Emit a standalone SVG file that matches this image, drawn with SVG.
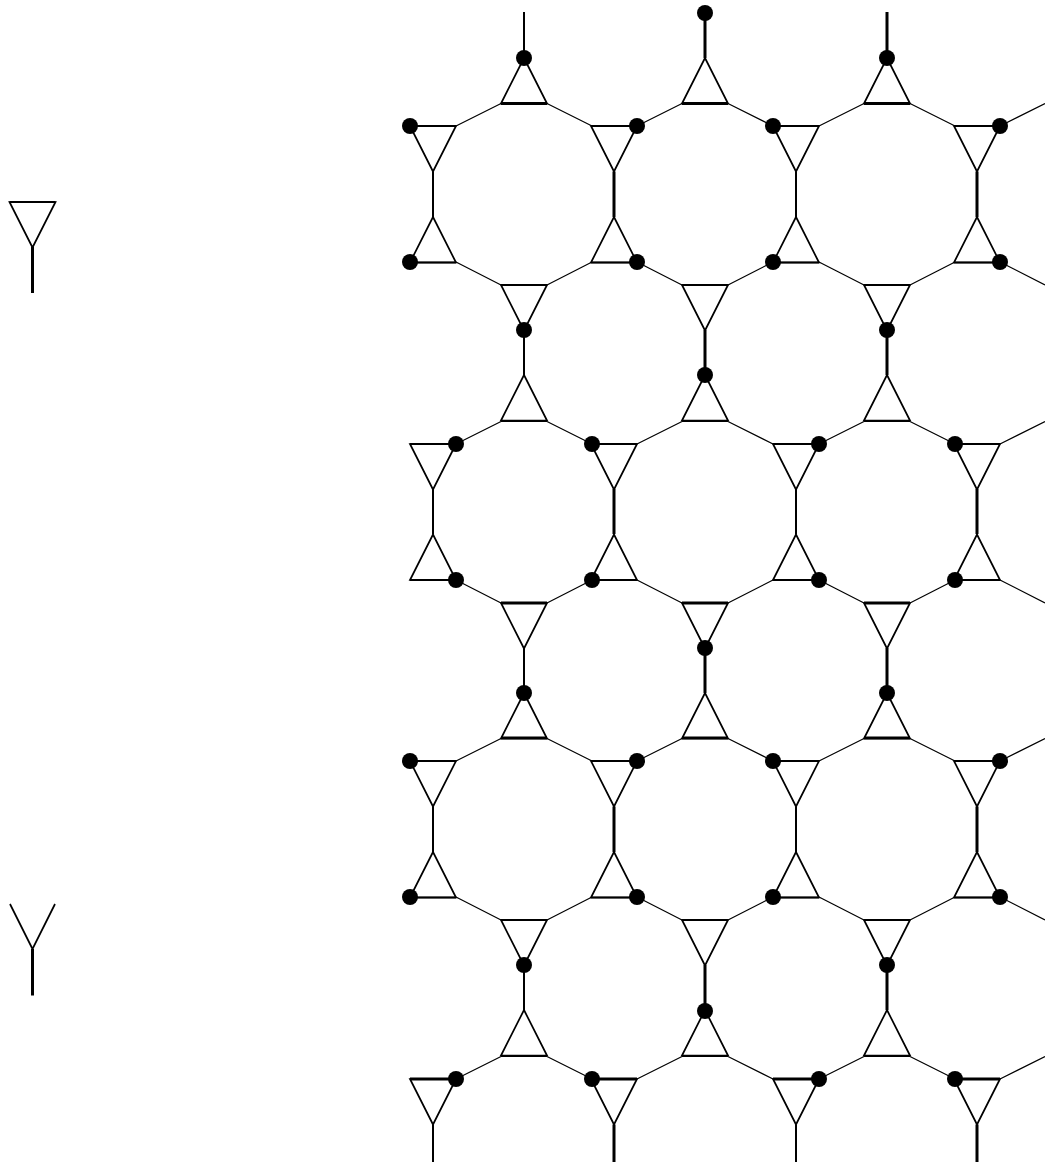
<svg xmlns="http://www.w3.org/2000/svg" width="1045" height="1163" viewBox="0 0 1045 1163">
<style>
.bg{fill:#fff}
.tri{fill:none;stroke:#000;stroke-width:1.7;stroke-linejoin:miter}
.base{stroke:#000;stroke-width:3}
.link{fill:none;stroke:#000;stroke-width:1.2}
.v{stroke:#000;stroke-width:2;fill:none}
.V{stroke:#000;stroke-width:3;fill:none}
.dot{fill:#000}
</style>
<defs>
<path id="dn" class="tri" d="M-23 0H23L0 45.5Z"/>
<path id="up" class="tri" d="M0 0L23 45.5H-23Z"/>
<path id="zu" class="link" d="M456 0L501 -22.5M547 -22.5L592 0M637 0L682 -22.5M728 -22.5L773 0M819 0L864 -22.5M910 -22.5L955 0M1000 0L1045 -22.5"/>
<path id="zd" class="link" d="M456 0L501 23M547 23L592 0M637 0L682 23M728 23L773 0M819 0L864 23M910 23L955 0M1000 0L1045 23"/>
</defs>
<rect class="bg" width="1045" height="1163"/>
<g id="connectors">
<use href="#zu" y="126"/><use href="#zd" y="262"/><use href="#zu" y="444"/><use href="#zd" y="580"/><use href="#zu" y="761"/><use href="#zd" y="897"/><use href="#zu" y="1079"/>
<path class="v" d="M433 171.500V217M433 489V534M433 806.500V852M433 1124.500V1162M796 171.500V217M796 489V534M796 806.500V852M796 1124.500V1162M524 12V58M524 330V375M524 648V693M524 965V1010"/>
<path class="V" d="M614 171.500V217M614 489V534M614 806.500V852M614 1124.500V1162M977 171.500V217M977 489V534M977 806.500V852M977 1124.500V1162M705 13V58M705 330V375M705 648V693M705 965V1010M887 12V58M887 330V375M887 648V693M887 965V1010"/>
<path class="V" d="M32.500 247V293M32.500 949V995.500"/>
</g>
<g id="legend-a"><use href="#dn" transform="translate(32.500,202)"/><path class="v" d="M9.500 202H55.500"/></g>
<g id="legend-b"><path class="tri" d="M10 904L32.500 949L55 904"/></g>
<g id="a1"><use href="#dn" transform="translate(433,126)"/><path class="v" d="M410 126H456"/><circle class="dot" cx="410" cy="126" r="8"/></g>
<g id="a2"><use href="#dn" transform="translate(614,126)"/><path class="v" d="M591 126H637"/><circle class="dot" cx="637" cy="126" r="8"/></g>
<g id="a3"><use href="#dn" transform="translate(796,126)"/><path class="v" d="M773 126H819"/><circle class="dot" cx="773" cy="126" r="8"/></g>
<g id="a4"><use href="#dn" transform="translate(977,126)"/><path class="v" d="M954 126H1000"/><circle class="dot" cx="1000" cy="126" r="8"/></g>
<g id="b1"><use href="#up" transform="translate(433,217)"/><path class="v" d="M410 262.500H456"/><circle class="dot" cx="410" cy="262" r="8"/></g>
<g id="b2"><use href="#up" transform="translate(614,217)"/><path class="v" d="M591 262.500H637"/><circle class="dot" cx="637" cy="262" r="8"/></g>
<g id="b3"><use href="#up" transform="translate(796,217)"/><path class="v" d="M773 262.500H819"/><circle class="dot" cx="773" cy="262" r="8"/></g>
<g id="b4"><use href="#up" transform="translate(977,217)"/><path class="v" d="M954 262.500H1000"/><circle class="dot" cx="1000" cy="262" r="8"/></g>
<g id="c1"><use href="#dn" transform="translate(433,444)"/><path class="v" d="M410 444H456"/><circle class="dot" cx="456" cy="444" r="8"/></g>
<g id="c2"><use href="#dn" transform="translate(614,444)"/><path class="v" d="M591 444H637"/><circle class="dot" cx="592" cy="444" r="8"/></g>
<g id="c3"><use href="#dn" transform="translate(796,444)"/><path class="v" d="M773 444H819"/><circle class="dot" cx="819" cy="444" r="8"/></g>
<g id="c4"><use href="#dn" transform="translate(977,444)"/><path class="v" d="M954 444H1000"/><circle class="dot" cx="955" cy="444" r="8"/></g>
<g id="d1"><use href="#up" transform="translate(433,534.500)"/><path class="v" d="M410 580H456"/><circle class="dot" cx="456" cy="580" r="8"/></g>
<g id="d2"><use href="#up" transform="translate(614,534.500)"/><path class="v" d="M591 580H637"/><circle class="dot" cx="592" cy="580" r="8"/></g>
<g id="d3"><use href="#up" transform="translate(796,534.500)"/><path class="v" d="M773 580H819"/><circle class="dot" cx="819" cy="580" r="8"/></g>
<g id="d4"><use href="#up" transform="translate(977,534.500)"/><path class="v" d="M954 580H1000"/><circle class="dot" cx="955" cy="580" r="8"/></g>
<g id="e1"><use href="#dn" transform="translate(433,761)"/><path class="v" d="M410 761H456"/><circle class="dot" cx="410" cy="761" r="8"/></g>
<g id="e2"><use href="#dn" transform="translate(614,761)"/><path class="v" d="M591 761H637"/><circle class="dot" cx="637" cy="761" r="8"/></g>
<g id="e3"><use href="#dn" transform="translate(796,761)"/><path class="v" d="M773 761H819"/><circle class="dot" cx="773" cy="761" r="8"/></g>
<g id="e4"><use href="#dn" transform="translate(977,761)"/><path class="v" d="M954 761H1000"/><circle class="dot" cx="1000" cy="761" r="8"/></g>
<g id="f1"><use href="#up" transform="translate(433,852)"/><path class="v" d="M410 897.500H456"/><circle class="dot" cx="410" cy="897" r="8"/></g>
<g id="f2"><use href="#up" transform="translate(614,852)"/><path class="v" d="M591 897.500H637"/><circle class="dot" cx="637" cy="897" r="8"/></g>
<g id="f3"><use href="#up" transform="translate(796,852)"/><path class="v" d="M773 897.500H819"/><circle class="dot" cx="773" cy="897" r="8"/></g>
<g id="f4"><use href="#up" transform="translate(977,852)"/><path class="v" d="M954 897.500H1000"/><circle class="dot" cx="1000" cy="897" r="8"/></g>
<g id="g1"><use href="#dn" transform="translate(433,1079)"/><path class="base" d="M410 1079H456"/><circle class="dot" cx="456" cy="1079" r="8"/></g>
<g id="g2"><use href="#dn" transform="translate(614,1079)"/><path class="base" d="M591 1079H637"/><circle class="dot" cx="592" cy="1079" r="8"/></g>
<g id="g3"><use href="#dn" transform="translate(796,1079)"/><path class="base" d="M773 1079H819"/><circle class="dot" cx="819" cy="1079" r="8"/></g>
<g id="g4"><use href="#dn" transform="translate(977,1079)"/><path class="base" d="M954 1079H1000"/><circle class="dot" cx="955" cy="1079" r="8"/></g>
<g id="h1"><use href="#up" transform="translate(524,58)"/><path class="base" d="M501 103.500H547"/><circle class="dot" cx="524" cy="58" r="8"/></g>
<g id="h2"><use href="#up" transform="translate(705,58)"/><path class="base" d="M682 103.500H728"/><circle class="dot" cx="705" cy="13" r="8"/></g>
<g id="h3"><use href="#up" transform="translate(887,58)"/><path class="base" d="M864 103.500H910"/><circle class="dot" cx="887" cy="58" r="8"/></g>
<g id="i1"><use href="#dn" transform="translate(524,285)"/><path class="v" d="M501 285H547"/><circle class="dot" cx="524" cy="330" r="8"/></g>
<g id="i2"><use href="#dn" transform="translate(705,285)"/><path class="v" d="M682 285H728"/></g>
<g id="i3"><use href="#dn" transform="translate(887,285)"/><path class="v" d="M864 285H910"/><circle class="dot" cx="887" cy="330" r="8"/></g>
<g id="j1"><use href="#up" transform="translate(524,375)"/><path class="v" d="M501 421H547"/></g>
<g id="j2"><use href="#up" transform="translate(705,375)"/><path class="v" d="M682 421H728"/><circle class="dot" cx="705" cy="375" r="8"/></g>
<g id="j3"><use href="#up" transform="translate(887,375)"/><path class="v" d="M864 421H910"/></g>
<g id="k1"><use href="#dn" transform="translate(524,603)"/><path class="base" d="M501 603H547"/></g>
<g id="k2"><use href="#dn" transform="translate(705,603)"/><path class="base" d="M682 603H728"/><circle class="dot" cx="705" cy="648" r="8"/></g>
<g id="k3"><use href="#dn" transform="translate(887,603)"/><path class="base" d="M864 603H910"/></g>
<g id="l1"><use href="#up" transform="translate(524,693)"/><path class="base" d="M501 738H547"/><circle class="dot" cx="524" cy="693" r="8"/></g>
<g id="l2"><use href="#up" transform="translate(705,693)"/><path class="base" d="M682 738H728"/></g>
<g id="l3"><use href="#up" transform="translate(887,693)"/><path class="base" d="M864 738H910"/><circle class="dot" cx="887" cy="693" r="8"/></g>
<g id="m1"><use href="#dn" transform="translate(524,920)"/><path class="v" d="M501 920H547"/><circle class="dot" cx="524" cy="965" r="8"/></g>
<g id="m2"><use href="#dn" transform="translate(705,920)"/><path class="v" d="M682 920H728"/></g>
<g id="m3"><use href="#dn" transform="translate(887,920)"/><path class="v" d="M864 920H910"/><circle class="dot" cx="887" cy="965" r="8"/></g>
<g id="n1"><use href="#up" transform="translate(524,1010)"/><path class="v" d="M501 1056H547"/></g>
<g id="n2"><use href="#up" transform="translate(705,1010)"/><path class="v" d="M682 1056H728"/><circle class="dot" cx="705" cy="1011" r="8"/></g>
<g id="n3"><use href="#up" transform="translate(887,1010)"/><path class="v" d="M864 1056H910"/></g>
</svg>
